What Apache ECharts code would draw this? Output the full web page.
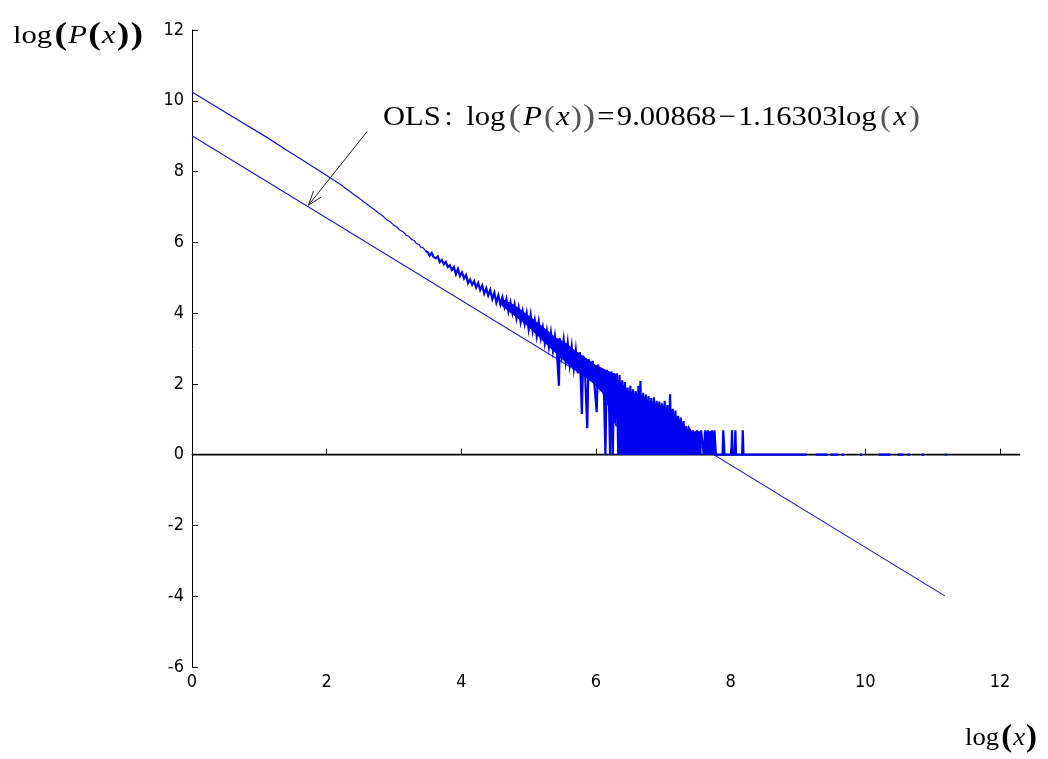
<!DOCTYPE html>
<html><head><meta charset="utf-8">
<script src="https://cdn.jsdelivr.net/npm/echarts@6/dist/echarts.min.js"></script>
<style>html,body{margin:0;padding:0;background:#fff}#c{width:1048px;height:759px}</style>
</head><body><div id="c"></div>
<script>
// ---- data ----
const xTicks = [0, 2, 4, 6, 8, 10, 12];
const yTicks = [-6, -4, -2, 0, 2, 4, 6, 8, 10, 12];

// observed log(P(x)) vs log(x): smooth head
const observedSmooth = [
 [0,10.25],[0.69,9.45],[1.10,8.98],[1.39,8.62],[1.61,8.36],[1.79,8.14],[1.95,7.95],[2.08,7.79],
 [2.20,7.64],[2.30,7.50],[2.40,7.36],[2.48,7.25],[2.56,7.13],[2.64,7.02],[2.71,6.92],[2.77,6.83],
 [2.83,6.75],[2.89,6.64],[2.94,6.59],[3.00,6.48],[3.04,6.44],[3.09,6.34],[3.14,6.29],[3.18,6.20],
 [3.22,6.17],[3.26,6.08],[3.30,6.05],[3.33,5.97],[3.37,5.94],[3.40,5.86],[3.43,5.85],[3.47,5.76]
];
// observed: noisy tail ('-' marks a gap)
const observedNoisy = [
 [3.47,5.76],[3.50,5.72],[3.53,5.62],[3.56,5.70],[3.59,5.58],[3.62,5.55],[3.65,5.60],[3.68,5.44],[3.71,5.50],
 [3.74,5.38],[3.77,5.45],[3.80,5.30],[3.83,5.35],[3.86,5.22],[3.89,5.30],[3.92,5.10],[3.95,5.25],
 [3.98,5.05],[4.01,5.15],[4.04,4.98],[4.07,5.08],[4.10,4.85],[4.13,4.95],[4.16,4.80],[4.19,4.90],
 [4.22,4.72],[4.25,4.85],[4.28,4.65],[4.31,4.78],[4.34,4.55],[4.37,4.70],[4.40,4.50],[4.43,4.65],
 [4.46,4.40],[4.49,4.58],[4.52,4.30],[4.55,4.50],[4.58,4.25],[4.61,4.45],[4.64,4.18],[4.67,4.40],
 [4.70,4.05],[4.73,4.30],[4.76,4.00],[4.79,4.25],[4.82,3.85],[4.85,4.15],[4.88,3.75],[4.91,4.05],
 [4.94,3.70],[4.97,4.00],[5.00,3.55],[5.03,3.95],[5.06,3.50],[5.09,3.80],[5.12,3.35],[5.15,3.75],
 [5.18,3.30],[5.21,3.60],[5.24,3.15],[5.27,3.50],[5.30,3.05],[5.33,3.45],[5.36,2.95],[5.39,3.35],
 [5.42,2.85],[5.45,1.95],[5.46,3.30],[5.49,2.80],[5.52,3.25],[5.55,2.65],[5.58,3.15],[5.61,2.55],
 [5.64,3.05],[5.67,2.45],[5.70,2.95],[5.73,2.30],[5.76,2.90],[5.79,1.15],[5.81,2.80],[5.84,2.20],
 [5.87,0.75],[5.89,2.70],[5.92,2.10],[5.95,2.65],[5.98,1.90],[6.01,1.20],[6.03,2.55],[6.06,2.00],
 [6.09,2.45],[6.12,1.60],[6.14,0.00],[6.16,2.40],[6.19,1.70],[6.21,0.00],[6.23,2.35],[6.25,0.00],
 [6.27,2.30],[6.29,1.00],[6.31,2.30],[6.33,0],[6.35,2.25],[6.37,0],[6.39,2.10],[6.41,0],
 [6.43,2.05],[6.45,0.3],[6.47,1.90],[6.49,0],[6.51,1.95],[6.53,0],[6.55,1.85],[6.57,0],
 [6.59,1.80],[6.61,0],[6.63,1.95],[6.65,0],[6.66,2.08],[6.68,0],[6.70,1.75],[6.72,0],
 [6.74,1.70],[6.76,0],[6.78,1.66],[6.80,0],[6.82,1.60],[6.84,0],[6.86,1.62],[6.88,0],
 [6.90,1.52],[6.92,0],[6.94,1.50],[6.96,0],[6.98,1.45],[7.00,0],[7.02,1.52],[7.04,0],
 [7.06,1.40],[7.08,0],[7.10,1.71],[7.12,0],[7.14,1.30],[7.16,0],[7.18,1.25],[7.20,0],
 [7.22,1.10],[7.24,0],[7.26,1.05],[7.28,0],[7.30,0.95],[7.32,0],[7.34,0.80],[7.36,0],
 [7.38,0.75],[7.40,0.69],[7.42,0],[7.44,0.69],[7.46,0.69],[7.48,0],[7.50,0.69],[7.52,0.69],
 [7.54,0],[7.56,0.69],[7.58,0.69],[7.60,0],[7.62,0.69],[7.64,0],[7.66,0.69],[7.68,0.69],
 [7.70,0],[7.72,0.69],[7.74,0],[7.76,0.69],[7.78,0],[7.88,0],[7.89,0.69],[7.90,0.69],
 [7.91,0],[8.01,0],[8.02,0.69],[8.03,0],[8.06,0],[8.07,0.69],[8.08,0],[8.17,0],
 [8.18,0.69],[8.19,0],[9.13,0],[9.20,'-'],[9.26,0],[9.44,0],[9.46,'-'],[9.48,0],
 [9.60,0],[9.62,'-'],[9.65,0],[9.68,0],[9.80,'-'],[9.92,0],[9.95,0],[10.1,'-'],
 [10.20,0],[10.37,0],[10.42,'-'],[10.48,0],[10.57,0],[10.60,'-'],[10.63,0],[10.66,0],
 [10.75,'-'],[10.84,0],[10.87,0],[11.0,'-'],[11.18,0],[11.21,0]
];
// outline of the solid band of overlapping points (top edge forward, lower edge back)
const bandOutline = [
 [4.60,4.40],[4.80,4.20],[5.00,3.92],[5.20,3.62],[5.40,3.30],[5.55,3.15],[5.70,2.92],[5.85,2.72],
 [6.00,2.52],[6.15,2.38],[6.30,2.25],
 [6.30,0.80],[6.20,1.30],[6.10,1.75],[6.00,1.95],[5.85,2.20],[5.70,2.40],[5.55,2.62],[5.40,2.88],
 [5.20,3.25],[5.00,3.62],[4.80,3.92],[4.60,4.22]
];
// solid blue block where counts are dense (filled down to 0)
const denseBlock = [
 [6.32,0],[6.33,2.10],[6.40,2.00],[6.48,1.82],[6.56,1.75],[6.64,1.72],[6.72,1.62],[6.80,1.52],
 [6.90,1.44],[7.00,1.38],[7.08,1.30],[7.16,1.18],[7.22,1.02],[7.30,0.88],[7.37,0.72],[7.40,0.66],
 [7.56,0.66],[7.57,0],[7.60,0],[7.61,0.66],[7.75,0.66],[7.76,0]
];

// OLS fit line end points: log(P(x)) = 9.00868 - 1.16303 log(x)
const olsLine = [[0, 9.01], [11.18, -3.99]];
// horizontal reference line at 0 (runs a little past the axis end)
const zeroLine = [[0, 0], [12.3, 0]];
// arrow annotation: start and tip (data coordinates)
const arrowStart = [2.6, 9.13];
const arrowTip = [1.73, 7.05];

// ---- chart ----
const chart = echarts.init(document.getElementById('c'), null, {renderer: 'canvas'});
const BLUE = '#0000f0';
const tickFont = {fontFamily: '"Liberation Sans Narrow","Arial Narrow","DejaVu Sans Condensed","Liberation Sans",sans-serif', fontSize: 18, color: '#000'};
const axisCommon = {
  axisLine: {show: true, lineStyle: {color: '#000', width: 1}},
  axisTick: {show: true, inside: true, length: 6, lineStyle: {color: '#000'}},
  splitLine: {show: false}
};
chart.setOption({
  animation: false,
  backgroundColor: '#fff',
  grid: {left: 192, right: 48, top: 30, bottom: 92, containLabel: false},
  xAxis: Object.assign({
    type: 'value', min: xTicks[0], max: xTicks[xTicks.length - 1], interval: 2,
    axisLabel: Object.assign({margin: 6}, tickFont)
  }, axisCommon),
  yAxis: Object.assign({
    type: 'value', min: yTicks[0], max: yTicks[yTicks.length - 1], interval: 2,
    axisLabel: Object.assign({margin: 8}, tickFont)
  }, axisCommon, {axisLine: {show: true, onZero: false, lineStyle: {color: '#000', width: 1}}}),
  series: [
    {type: 'line', data: olsLine, symbol: 'none', z: 2,
     lineStyle: {color: '#1a1ab8', width: 1.1}, silent: true},
    {type: 'line', data: observedSmooth, symbol: 'none', z: 3,
     lineStyle: {color: '#1414c8', width: 1.2}, silent: true},
    {type: 'custom', data: bandOutline, z: 3, silent: true,
     renderItem: function (params, api) {
       if (params.dataIndex !== 0) return null;
       return {type: 'polygon', shape: {points: bandOutline.map(p => api.coord(p))},
               style: {fill: BLUE, stroke: BLUE, lineWidth: 1}};
     }},
    {type: 'line', data: denseBlock, symbol: 'none', z: 3,
     lineStyle: {width: 0}, areaStyle: {color: BLUE, opacity: 1, origin: 0}, silent: true},
    {type: 'line', data: observedNoisy, symbol: 'none', z: 3, connectNulls: false,
     lineStyle: {color: BLUE, width: 2.2, join: 'miter'}, silent: true}
  ]
});

// ---- text helpers ----
const mctx = document.createElement('canvas').getContext('2d');
const SERIF = '"Liberation Serif","Times New Roman",serif';
function buildText(segs, x0, yMid, targetW) {
  let cur = 0; const kids = [];
  segs.forEach(s => {
    cur += s.pre || 0;
    const st = s.italic ? 'italic' : 'normal';
    const wt = s.bold ? 'bold' : 'normal';
    mctx.font = st + ' ' + wt + ' ' + s.size + 'px ' + SERIF;
    const w = mctx.measureText(s.t).width;
    kids.push({type: 'text', x: cur, y: s.dy || 0, silent: true, style: {
      text: s.t, fontFamily: SERIF, fontSize: s.size, fontStyle: st, fontWeight: wt,
      fill: s.color || '#000', align: 'left', verticalAlign: 'middle'}});
    cur += w + (s.post || 0);
  });
  const k = targetW ? targetW / cur : 1;
  return {type: 'group', x: x0, y: yMid, scaleX: k, children: kids, silent: true};
}

const P = '#555';
const annot = buildText([
  {t: 'OLS', size: 27},
  {t: ':', size: 27, pre: 3, post: 12},
  {t: 'log', size: 27, post: 3},
  {t: '(', size: 32, color: P, post: 2},
  {t: 'P', size: 27, italic: true, post: 2},
  {t: '(', size: 29, color: P, post: 1},
  {t: 'x', size: 27, italic: true, post: 1},
  {t: ')', size: 29, color: P, post: 1},
  {t: ')', size: 32, color: P, post: 2},
  {t: '=', size: 27, post: 2},
  {t: '9.00868', size: 27, post: 2},
  {t: '\u2212', size: 27, post: 2},
  {t: '1.16303', size: 27},
  {t: 'log', size: 27, post: 3},
  {t: '(', size: 29, color: P, post: 2},
  {t: 'x', size: 27, italic: true, post: 2},
  {t: ')', size: 29, color: P}
], 383, 118, 537);

const ylab = buildText([
  {t: 'log', size: 26, post: 2},
  {t: '(', size: 32, bold: true, post: 1},
  {t: 'P', size: 26, italic: true, post: 1},
  {t: '(', size: 32, bold: true, post: 1},
  {t: 'x', size: 26, italic: true, post: 1},
  {t: ')', size: 32, bold: true, post: 1},
  {t: ')', size: 32, bold: true}
], 13, 36, 130);

const xlab = buildText([
  {t: 'log', size: 26, post: 2},
  {t: '(', size: 32, bold: true, post: 1},
  {t: 'x', size: 26, italic: true, post: 1},
  {t: ')', size: 32, bold: true}
], 965, 738, 72);

// pixel positions derived from data coordinates
const z0 = chart.convertToPixel({gridIndex: 0}, zeroLine[0]);
const z1 = chart.convertToPixel({gridIndex: 0}, zeroLine[1]);
const p0 = chart.convertToPixel({gridIndex: 0}, arrowStart);
const p1 = chart.convertToPixel({gridIndex: 0}, arrowTip);
const ang = Math.atan2(p0[1] - p1[1], p0[0] - p1[0]);
const hl = 15, ha = 0.33;
const h1 = [p1[0] + hl * Math.cos(ang + ha), p1[1] + hl * Math.sin(ang + ha)];
const h2 = [p1[0] + hl * Math.cos(ang - ha), p1[1] + hl * Math.sin(ang - ha)];
const arrowStyle = {stroke: '#222', lineWidth: 1, fill: null};

chart.setOption({
  graphic: [
    {type: 'line', silent: true, z: -1, shape: {x1: z0[0], y1: z0[1], x2: z1[0], y2: z1[1]},
     style: {stroke: '#000', lineWidth: 1.8}},
    annot, ylab, xlab,
    {type: 'polyline', silent: true, shape: {points: [p0, p1]}, style: arrowStyle},
    {type: 'polyline', silent: true, shape: {points: [h1, p1, h2]}, style: arrowStyle}
  ]
});
</script>
</body></html>
